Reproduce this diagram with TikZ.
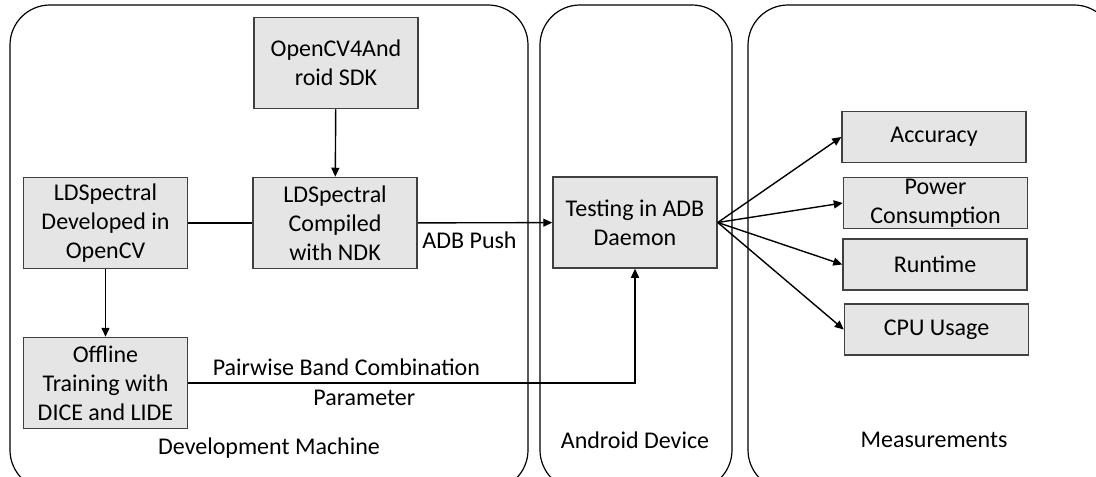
\documentclass[tikz,border=0pt]{standalone}
\usepackage{fontspec}
\setmainfont{Carlito}
\usetikzlibrary{arrows.meta}

\begin{document}
\begin{tikzpicture}[
    x=0.5pt,
    y=-0.5pt,
    every node/.style={font=\fontsize{12pt}{14.5pt}\selectfont},
    painel/.style={draw=black, line width=0.6pt, rounded corners=20pt},
    caixa/.style={draw=black!75, fill=gray!20, line width=0.75pt, align=center,
        minimum width=82pt, minimum height=45.5pt, inner sep=1pt},
    medida/.style={caixa, minimum width=92pt, minimum height=25.5pt, inner ysep=0pt},
    linha/.style={line width=0.7pt},
    seta/.style={linha, -{Triangle[length=4.5pt, width=4pt]}}
]

% Recorte:
% a página corta os painéis à direita e embaixo, como na figura.
\clip (0,0) rectangle (1096,476);

% Painéis:
% três regiões arredondadas lado a lado.
\draw[painel] (10,5) rectangle (528,490);
\draw[painel] (540,5) rectangle (732,490);
\draw[painel] (748,5) rectangle (1114,490);

\node (devLabel) at (269,448) {Development Machine};
\node (androidLabel) at (635,440) {Android Device};
\node (measLabel) at (934,440) {Measurements};

% Máquina de desenvolvimento:
\node[caixa] (sdk) at (336,63) {OpenCV4And\\roid SDK};
\node[caixa] (compiled) at (335,223) {LDSpectral\\Compiled\\with NDK};
\node[caixa] (developed) at (105.5,223) {LDSpectral\\Developed in\\OpenCV};
\node[caixa] (offline) at (105.5,383) {Offline\\Training with\\DICE and LIDE};

% Dispositivo Android:
\node[caixa] (testing) at (635,222.5) {Testing in ADB\\Daemon};

% Medidas:
\node[medida] (accuracy) at (934,137) {Accuracy};
\node[medida] (power) at (935.5,203) {Power\\Consumption};
\node[medida] (runtime) at (935,264.5) {Runtime};
\node[medida] (cpu) at (936.5,329.5) {CPU Usage};

% Ligações:
\draw[seta] (sdk) -- (compiled);
\draw[linha] (developed) -- (compiled);
\draw[seta] (developed) -- (offline);
\draw[seta] (compiled) -- node[pos=0, anchor=north west, inner sep=2pt, yshift=-2pt] {ADB Push} (testing);
\draw[seta] (offline.east) -| node[pos=0.177, above] {Pairwise Band Combination}
    node[pos=0.197, below] {Parameter} (testing.south);

% Leque de saída:
\foreach \m in {accuracy,power,runtime,cpu}
    \draw[seta] (testing.east) -- (\m.west);

\end{tikzpicture}
\end{document}
